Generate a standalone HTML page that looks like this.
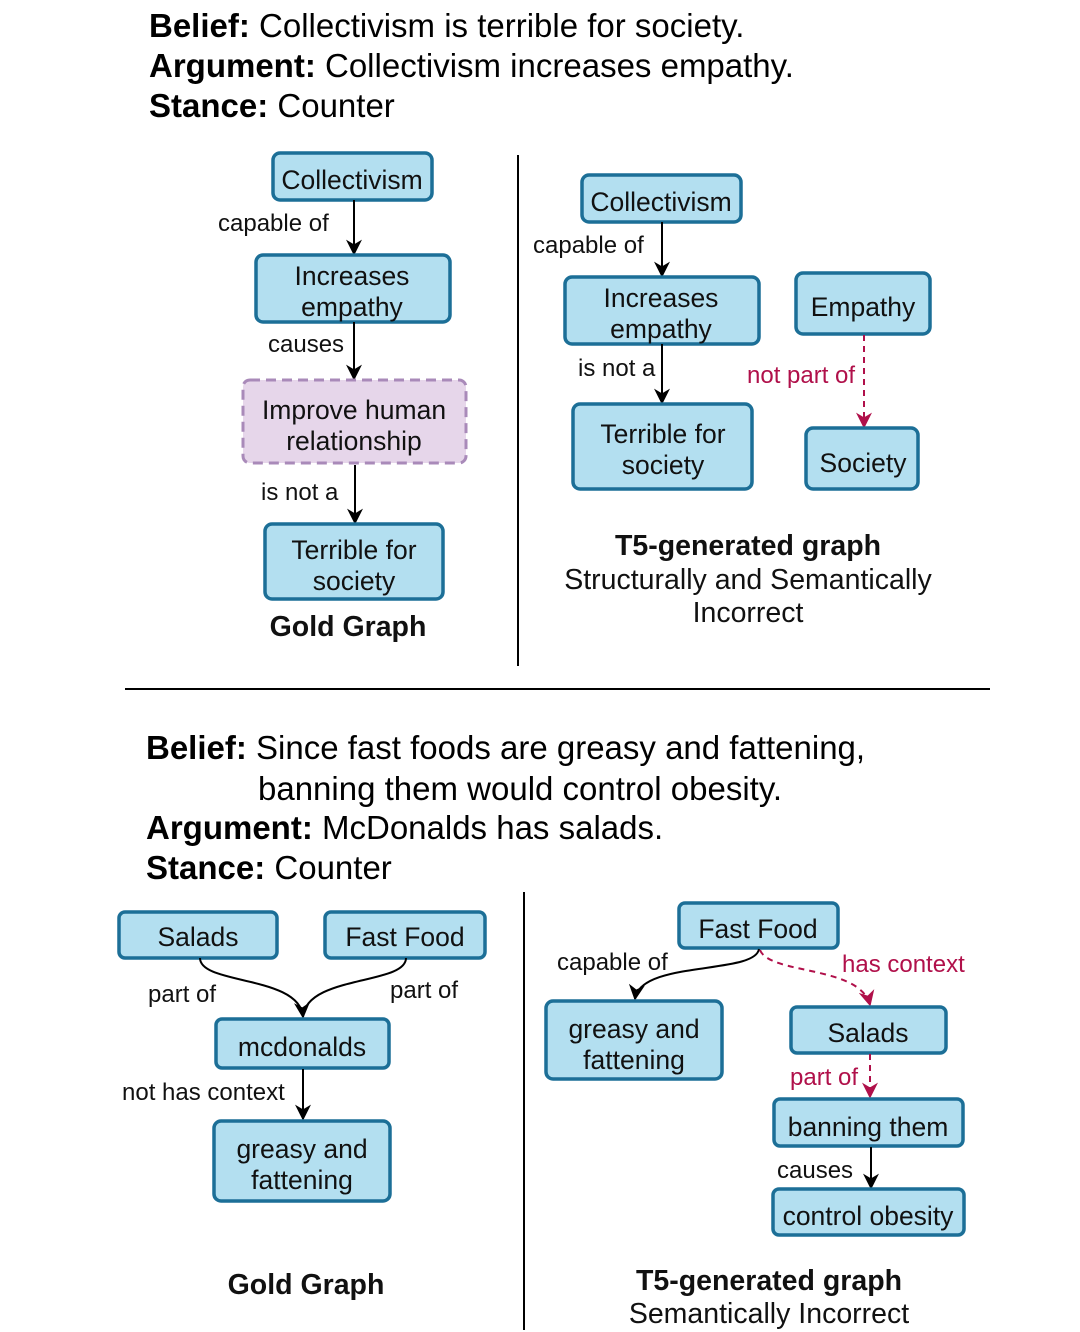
<!DOCTYPE html>
<html><head><meta charset="utf-8"><style>
html,body{margin:0;padding:0;background:#fff;}
svg{display:block;font-family:"Liberation Sans",Arial,sans-serif;}
.n{fill:#b3dff0;stroke:#1c6f97;stroke-width:3.5;}
.t{font-size:26.5px;fill:#111;text-anchor:middle;}
.l{font-size:24px;fill:#111;}
.r{font-size:24px;fill:#b0104a;}
.e{stroke:#000;stroke-width:2;fill:none;}
.d{stroke:#b0104a;stroke-width:2;fill:none;stroke-dasharray:6,5;}
.h{font-size:33px;fill:#000;}
.c{font-size:28.5px;}
</style></head><body>
<svg width="1080" height="1332" viewBox="0 0 1080 1332">
<defs>
<marker id="a" viewBox="0 0 10 10" refX="9" refY="5" markerWidth="16" markerHeight="16" orient="auto" markerUnits="userSpaceOnUse"><path d="M0,0 L10,5 L0,10 L3,5z" fill="#000"/></marker>
<marker id="ar" viewBox="0 0 10 10" refX="9" refY="5" markerWidth="16" markerHeight="16" orient="auto" markerUnits="userSpaceOnUse"><path d="M0,0 L10,5 L0,10 L3,5z" fill="#b0104a"/></marker>
</defs>
<text class="h" x="149" y="37"><tspan font-weight="bold">Belief:</tspan> Collectivism is terrible for society.</text>
<text class="h" x="149" y="77"><tspan font-weight="bold">Argument:</tspan> Collectivism increases empathy.</text>
<text class="h" x="149" y="117"><tspan font-weight="bold">Stance:</tspan> Counter</text>

<rect class="n" x="273" y="153" width="159" height="47" rx="7"/><text class="t" x="352" y="189">Collectivism</text>
<line class="e" x1="354" y1="200" x2="354" y2="254" marker-end="url(#a)"/><text class="l" x="218" y="231">capable of</text>
<rect class="n" x="256" y="255" width="194" height="67" rx="7"/><text class="t" x="352" y="285">Increases</text><text class="t" x="352" y="316">empathy</text>
<line class="e" x1="354" y1="322" x2="354" y2="379" marker-end="url(#a)"/><text class="l" x="268" y="352">causes</text>
<rect x="243" y="380" width="223" height="83" rx="7" fill="#e6d6ea" stroke="#a98ab9" stroke-width="3" stroke-dasharray="10,6"/><text class="t" x="354" y="419">Improve human</text><text class="t" x="354" y="450">relationship</text>
<line class="e" x1="355" y1="465" x2="355" y2="523" marker-end="url(#a)"/><text class="l" x="261" y="500">is not a</text>
<rect class="n" x="265" y="524" width="178" height="75" rx="7"/><text class="t" x="354" y="559">Terrible for</text><text class="t" x="354" y="590">society</text>
<text class="t c" x="348" y="636" font-weight="bold">Gold Graph</text>
<line x1="518" y1="155" x2="518" y2="666" stroke="#000" stroke-width="2"/>

<rect class="n" x="582" y="175" width="159" height="47" rx="7"/><text class="t" x="661" y="211">Collectivism</text>
<line class="e" x1="662" y1="222" x2="662" y2="276" marker-end="url(#a)"/><text class="l" x="533" y="253">capable of</text>
<rect class="n" x="565" y="277" width="194" height="67" rx="7"/><text class="t" x="661" y="307">Increases</text><text class="t" x="661" y="338">empathy</text>
<rect class="n" x="796" y="273" width="134" height="61" rx="7"/><text class="t" x="863" y="316">Empathy</text>
<line class="e" x1="662" y1="344" x2="662" y2="403" marker-end="url(#a)"/><text class="l" x="578" y="376">is not a</text>
<line class="d" x1="864" y1="335" x2="864" y2="427" marker-end="url(#ar)"/><text class="r" x="747" y="383">not part of</text>
<rect class="n" x="573" y="404" width="179" height="85" rx="7"/><text class="t" x="663" y="443">Terrible for</text><text class="t" x="663" y="474">society</text>
<rect class="n" x="806" y="428" width="112" height="61" rx="7"/><text class="t" x="863" y="472">Society</text>
<text class="t c" x="748" y="555" font-weight="bold">T5-generated graph</text>
<text class="t c" x="748" y="589">Structurally and Semantically</text>
<text class="t c" x="748" y="622">Incorrect</text>

<line x1="125" y1="689" x2="990" y2="689" stroke="#000" stroke-width="2"/>

<text class="h" x="146" y="759"><tspan font-weight="bold">Belief:</tspan> Since fast foods are greasy and fattening,</text>
<text class="h" x="258" y="800">banning them would control obesity.</text>
<text class="h" x="146" y="839"><tspan font-weight="bold">Argument:</tspan> McDonalds has salads.</text>
<text class="h" x="146" y="879"><tspan font-weight="bold">Stance:</tspan> Counter</text>

<rect class="n" x="119" y="912" width="158" height="46" rx="6"/><text class="t" x="198" y="946">Salads</text>
<rect class="n" x="325" y="912" width="160" height="46" rx="6"/><text class="t" x="405" y="946">Fast Food</text>
<path class="e" d="M200,958 C200,985 300,975 303,1017" marker-end="url(#a)"/>
<path class="e" d="M406,958 C406,985 306,975 303,1017"/>
<text class="l" x="148" y="1002">part of</text><text class="l" x="390" y="998">part of</text>
<rect class="n" x="216" y="1019" width="173" height="49" rx="6"/><text class="t" x="302" y="1056">mcdonalds</text>
<line class="e" x1="303" y1="1069" x2="303" y2="1119" marker-end="url(#a)"/><text class="l" x="122" y="1100">not has context</text>
<rect class="n" x="214" y="1121" width="176" height="80" rx="7"/><text class="t" x="302" y="1158">greasy and</text><text class="t" x="302" y="1189">fattening</text>
<text class="t c" x="306" y="1294" font-weight="bold">Gold Graph</text>
<line x1="524" y1="892" x2="524" y2="1330" stroke="#000" stroke-width="2"/>

<rect class="n" x="679" y="903" width="159" height="45" rx="6"/><text class="t" x="758" y="938">Fast Food</text>
<path class="e" d="M759,949 C755,975 640,960 635,999" marker-end="url(#a)"/>
<text class="l" x="557" y="970">capable of</text>
<path class="d" d="M760,950 C770,975 860,965 870,1005" marker-end="url(#ar)"/>
<text class="r" x="842" y="972">has context</text>
<rect class="n" x="546" y="1001" width="176" height="78" rx="7"/><text class="t" x="634" y="1038">greasy and</text><text class="t" x="634" y="1069">fattening</text>
<rect class="n" x="791" y="1007" width="155" height="46" rx="6"/><text class="t" x="868" y="1042">Salads</text>
<line class="d" x1="870" y1="1054" x2="870" y2="1097" marker-end="url(#ar)"/><text class="r" x="790" y="1085">part of</text>
<rect class="n" x="774" y="1099" width="189" height="47" rx="6"/><text class="t" x="868" y="1136">banning them</text>
<line class="e" x1="871" y1="1147" x2="871" y2="1188" marker-end="url(#a)"/><text class="l" x="777" y="1178">causes</text>
<rect class="n" x="773" y="1189" width="191" height="46" rx="6"/><text class="t" x="868" y="1225">control obesity</text>
<text class="t c" x="769" y="1290" font-weight="bold">T5-generated graph</text>
<text class="t c" x="769" y="1323">Semantically Incorrect</text>
</svg>
</body></html>
